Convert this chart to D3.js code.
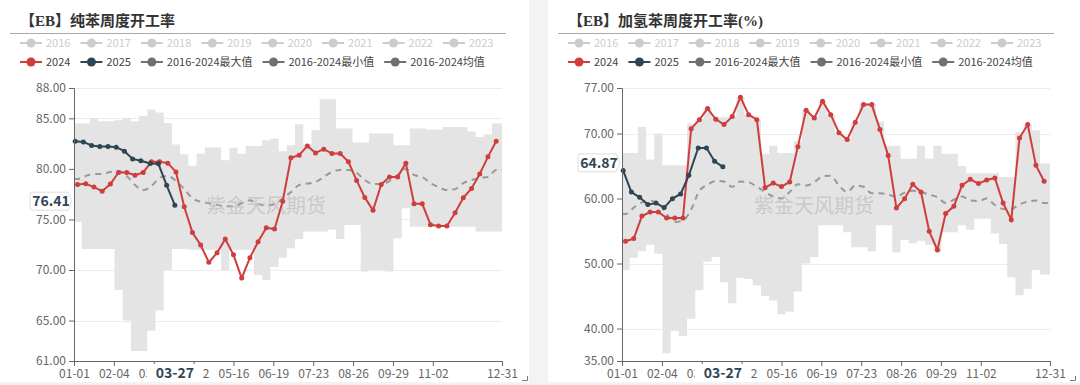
<!DOCTYPE html>
<html>
<head>
<meta charset="utf-8">
<script src="https://cdn.jsdelivr.net/npm/d3@7"></script>
<style>
  body { margin: 0; background: #f3f3f3; }
  svg { display: block; font-family: "Noto Sans CJK SC", "Noto Sans", sans-serif; }
</style>
</head>
<body>
<svg id="chart" width="1080" height="385"></svg>
<script>
// x axis labels (daily category axis of a leap year, label every 34 days)
var xTickLabels = ["01-01", "02-04", "03-09", "04-12", "05-16", "06-19", "07-23", "08-26", "09-29", "11-02", "12-31"];
var pointerDate = "03-27";

var legendYears = ["2016", "2017", "2018", "2019", "2020", "2021", "2022", "2023"];
var legendMain = ["2024", "2025", "2016-2024最大值", "2016-2024最小值", "2016-2024均值"];

// weekly data, first Thursday of each year
var weekStart2024 = "2024-01-04";
var weekStart2025 = "2025-01-02";

// 【EB】纯苯周度开工率
var pureTicks = [61, 65, 70, 75, 80, 85, 88];
var pure2024 = [78.46, 78.52, 78.2, 77.8, 78.5, 79.65, 79.65, 79.38, 79.65, 80.7,
  80.7, 80.57, 79.7, 76.25, 73.7, 72.47, 70.76, 71.7, 73.06, 71.5,
  69.2, 71.2, 72.8, 74.18, 74.05, 76.8, 81.1, 81.36, 82.27, 81.58,
  81.95, 81.52, 81.52, 80.7, 78.86, 77.18, 75.9, 78.46, 79.21, 79.21,
  80.57, 76.55, 76.55, 74.48, 74.35, 74.35, 75.66, 77.14, 78.07, 79.5,
  81.19, 82.74];
var pure2025 = [82.74, 82.67, 82.31, 82.21, 82.21, 82.15, 81.75, 80.99, 80.8, 80.54, 80.5, 78.37, 76.41];
var pureMax = [84.49, 84.49, 85.04, 84.7, 84.7, 84.8, 85.0, 84.7, 85.24, 85.87,
  85.57, 84.55, 82.41, 81.46, 80.3, 81.49, 82.12, 82.12, 80.86, 82.1,
  81.5, 82.27, 82.27, 82.84, 83.0, 81.75, 82.34, 84.42, 82.4, 83.82,
  86.88, 86.88, 84.0, 84.0, 82.6, 82.6, 83.5, 83.5, 83.5, 82.34,
  82.34, 84.0, 84.0, 83.9, 83.9, 84.15, 84.15, 84.15, 83.7, 83.16,
  83.4, 84.5];
var pureMin = [74.77, 72.08, 72.08, 72.08, 72.08, 68.03, 65.0, 62.0, 62.0, 64.0,
  66.0, 70.0, 72.08, 72.08, 72.0, 72.0, 72.0, 72.0, 70.0, 72.0,
  72.0, 72.0, 69.5, 69.0, 70.3, 71.2, 72.15, 73.07, 73.8, 73.8,
  73.8, 74.0, 73.07, 74.45, 74.45, 69.84, 70.0, 70.0, 69.84, 73.13,
  76.1, 74.28, 74.28, 74.28, 74.28, 74.28, 74.28, 74.28, 74.28, 73.8,
  73.8, 73.8];
var pureMean = [79.0, 79.3, 79.5, 79.5, 79.7, 79.8, 79.3, 78.4, 77.9, 78.3,
  79.1, 79.3, 78.8, 78.0, 77.1, 76.75, 76.6, 76.45, 76.3, 76.3,
  76.6, 76.9, 76.5, 76.4, 76.5, 77.1, 77.7, 78.4, 78.55, 78.7,
  79.2, 79.7, 79.9, 79.9, 79.6, 78.9, 78.5, 78.5, 78.8, 79.4,
  80.0, 79.4, 79.2, 78.6, 78.2, 77.9, 78.0, 78.6, 78.9, 79.1,
  79.2, 79.9];

// 【EB】加氢苯周度开工率(%)
var hydroTicks = [35, 40, 50, 60, 70, 77];
var hydro2024 = [53.42, 53.83, 57.31, 57.92, 57.92, 57.0, 57.0, 57.0, 70.75, 72.13,
  73.83, 72.18, 71.37, 72.6, 75.57, 72.9, 72.13, 61.67, 62.38, 61.83,
  62.54, 67.98, 73.57, 72.38, 74.95, 72.9, 70.13, 69.06, 71.72, 74.45,
  74.45, 70.6, 66.6, 58.54, 59.98, 62.18, 61.0, 54.95, 52.08, 57.68,
  58.8, 62.03, 62.95, 62.29, 62.85, 63.15, 59.3, 56.75, 69.31, 71.37,
  65.1, 62.65];
var hydro2025 = [64.29, 61.0, 60.18, 59.06, 59.3, 58.6, 59.98, 60.7, 63.57, 67.77, 67.77, 65.72, 64.87];
var hydroMax = [67.0, 67.0, 71.0, 66.0, 70.0, 65.1, 65.1, 65.1, 71.5, 72.2,
  73.9, 72.5, 72.5, 72.6, 75.6, 72.9, 72.1, 66.9, 68.1, 67.0,
  67.0, 68.8, 73.6, 72.5, 74.95, 72.9, 70.1, 69.2, 71.7, 74.6,
  74.6, 71.8, 68.1, 68.1, 66.1, 66.1, 68.1, 66.1, 68.1, 66.9,
  66.9, 65.0, 63.9, 63.9, 63.9, 63.9, 63.3, 63.3, 70.2, 71.4,
  70.5, 65.4];
var hydroMin = [49.0, 50.9, 51.9, 52.9, 51.5, 36.2, 39.6, 38.85, 41.5, 45.9,
  50.3, 51.0, 47.1, 43.9, 47.8, 47.6, 46.6, 45.0, 44.3, 42.2,
  42.6, 45.7, 50.0, 51.0, 55.9, 55.9, 55.9, 54.8, 52.5, 52.5,
  51.9, 55.9, 55.9, 51.7, 53.6, 53.1, 53.5, 52.9, 51.9, 54.8,
  54.8, 55.9, 55.2, 56.9, 56.9, 54.6, 53.0, 47.9, 45.1, 46.1,
  49.0, 48.3];
var hydroMean = [57.6, 58.6, 59.4, 59.6, 59.3, 57.6, 56.4, 56.6, 58.3, 61.2,
  62.1, 62.7, 62.6, 61.8, 62.6, 62.5, 61.8, 61.0, 60.3, 60.0,
  61.0, 62.2, 62.0, 62.5, 63.4, 63.5, 62.0, 61.0, 62.0, 61.8,
  60.8, 60.8, 60.6, 60.3, 60.9, 61.2, 61.0, 60.6, 60.2, 59.3,
  59.8, 60.3, 59.7, 59.6, 60.0, 59.0, 58.4, 58.4, 59.1, 59.5,
  59.7, 59.3];

var colors = { y2024: "#cf3d3d", y2025: "#2f4554", stat: "#6e7074", off: "#cccccc", band: "#e4e4e4", mean: "#999999" };

var svg = d3.select("#chart");
var parseDay = d3.timeParse("%Y-%m-%d");
var fmtMD = d3.timeFormat("%m-%d");

// "MM-DD" -> position on the leap-year axis
function dayIndex(md) {
  var p = md.split("-").map(Number);
  return d3.timeDay.count(new Date(2024, 0, 1), new Date(2024, p[0] - 1, p[1]));
}

function weeklyDates(start, n) {
  var d0 = parseDay(start);
  return d3.range(n).map(function (i) { return fmtMD(d3.timeDay.offset(d0, 7 * i)); });
}

var dates2024 = weeklyDates(weekStart2024, pure2024.length);
var dates2025 = weeklyDates(weekStart2025, pure2025.length);

// white cards
svg.append("rect").attr("x", 0).attr("y", 0).attr("width", 529).attr("height", 382).attr("fill", "#fff");
svg.append("rect").attr("x", 548).attr("y", 0).attr("width", 532).attr("height", 382).attr("fill", "#fff");

function drawLegendRow(g, names, y, active) {
  var xPos = 20;
  names.forEach(function (name, i) {
    var c = !active ? colors.off : (i === 0 ? colors.y2024 : (i === 1 ? colors.y2025 : colors.stat));
    g.append("line").attr("x1", xPos).attr("x2", xPos + 22).attr("y1", y).attr("y2", y)
      .attr("stroke", c).attr("stroke-width", 2);
    g.append("circle").attr("cx", xPos + 11).attr("cy", y).attr("r", 4.5).attr("fill", c);
    var t = g.append("text").attr("x", xPos + 26).attr("y", y + 4)
      .attr("font-size", 11).attr("fill", active ? "#444" : colors.off).text(name);
    xPos += 26 + t.node().getComputedTextLength() + 10;
  });
}

function drawChart(cfg) {
  var g = svg.append("g").attr("transform", "translate(" + cfg.ox + ",0)");
  var x = d3.scaleLinear().domain([0, 365]).range([74, 502]);
  var y = d3.scaleLinear().domain([cfg.ticks[0], cfg.ticks[cfg.ticks.length - 1]]).range([361, 88]);

  g.append("text").attr("x", 20).attr("y", 26)
    .attr("font-family", "'Liberation Serif', 'Noto Sans CJK SC', serif")
    .attr("font-size", 15).attr("font-weight", "bold").attr("fill", "#333").text(cfg.title);
  g.append("line").attr("x1", 10).attr("x2", 506).attr("y1", 33.5).attr("y2", 33.5)
    .attr("stroke", "#aaa").attr("stroke-width", 1);

  drawLegendRow(g, legendYears, 43, false);
  drawLegendRow(g, legendMain, 62, true);

  // grid
  g.selectAll("line.grid").data(cfg.ticks.slice(1)).enter().append("line")
    .attr("class", "grid").attr("x1", 74).attr("x2", 502)
    .attr("y1", function (d) { return Math.round(y(d)) + 0.5; })
    .attr("y2", function (d) { return Math.round(y(d)) + 0.5; })
    .attr("stroke", "#ececec");

  // max / min band, step per week
  var last = cfg.max.length - 1;
  var band = [{ i: 0, hi: cfg.max[0], lo: cfg.min[0] }]
    .concat(dates2024.map(function (d, k) { return { i: dayIndex(d), hi: cfg.max[k], lo: cfg.min[k] }; }))
    .concat([{ i: 365, hi: cfg.max[last], lo: cfg.min[last] }]);
  g.append("path").datum(band)
    .attr("d", d3.area().curve(d3.curveStep)
      .x(function (d) { return x(d.i); })
      .y0(function (d) { return y(d.lo); })
      .y1(function (d) { return y(d.hi); }))
    .attr("fill", colors.band);

  // mean
  var meanPts = [{ i: 0, v: cfg.mean[0] }]
    .concat(dates2024.map(function (d, k) { return { i: dayIndex(d), v: cfg.mean[k] }; }))
    .concat([{ i: 365, v: cfg.mean[last] }]);
  g.append("path").datum(meanPts)
    .attr("d", d3.line().curve(d3.curveMonotoneX)
      .x(function (d) { return x(d.i); }).y(function (d) { return y(d.v); }))
    .attr("fill", "none").attr("stroke", colors.mean).attr("stroke-width", 2)
    .attr("stroke-dasharray", "6,5");

  // watermark
  g.append("text").attr("x", 206).attr("y", 213).attr("font-size", 20)
    .attr("fill", "#bdbdbd").attr("fill-opacity", 0.7).text("紫金天风期货");

  // yearly lines
  [[dates2024, cfg.s2024, colors.y2024], [dates2025, cfg.s2025, colors.y2025]].forEach(function (s) {
    var pts = s[0].map(function (d, k) { return { i: dayIndex(d), v: s[1][k] }; });
    g.append("path").datum(pts)
      .attr("d", d3.line().x(function (d) { return x(d.i); }).y(function (d) { return y(d.v); }))
      .attr("fill", "none").attr("stroke", s[2]).attr("stroke-width", 2);
    g.selectAll(null).data(pts).enter().append("circle")
      .attr("cx", function (d) { return x(d.i); }).attr("cy", function (d) { return y(d.v); })
      .attr("r", 2.5).attr("fill", s[2]);
  });

  // axes
  var yAxis = g.append("g").attr("transform", "translate(74,0)")
    .call(d3.axisLeft(y).tickValues(cfg.ticks).tickFormat(d3.format(".2f")).tickSize(5).tickPadding(3));
  var xAxis = g.append("g").attr("transform", "translate(0,361)")
    .call(d3.axisBottom(x).tickValues(xTickLabels.map(dayIndex))
      .tickFormat(function (d, i) { return xTickLabels[i]; }).tickSize(5).tickPadding(3));
  [yAxis, xAxis].forEach(function (a) {
    a.select(".domain").attr("stroke", "#666");
    a.selectAll(".tick line").attr("stroke", "#666");
    a.selectAll("text").attr("fill", "#666").attr("font-size", 12)
      .attr("font-family", "'Noto Sans CJK SC', sans-serif");
  });

  // axis pointer labels
  var px = x(dayIndex(pointerDate));
  g.append("rect").attr("x", px - 28).attr("y", 364).attr("width", 56).attr("height", 17).attr("fill", "#fff");
  g.append("text").attr("x", px).attr("y", 378).attr("text-anchor", "middle")
    .attr("font-size", 14).attr("font-weight", "bold").attr("fill", colors.y2025).text(pointerDate);

  var lastVal = cfg.s2025[cfg.s2025.length - 1];
  var py = y(lastVal) - 4;
  g.append("path")
    .attr("d", "M32," + (py - 9) + "H68l4," + 9 + "l-4," + 9 + "H32q-2,0 -2,-2V" + (py - 7) + "q0,-2 2,-2Z")
    .attr("fill", "#fff").attr("stroke", "#ddd");
  g.append("text").attr("x", 51).attr("y", py + 5).attr("text-anchor", "middle")
    .attr("font-size", 14).attr("font-weight", "bold").attr("fill", colors.y2025)
    .text(d3.format(".2f")(lastVal));

  // resize corner mark
  g.append("path").attr("d", "M522,380.5H527.5V376").attr("fill", "none").attr("stroke", "#777");
}

drawChart({ ox: 0, title: "【EB】纯苯周度开工率", ticks: pureTicks, s2024: pure2024, s2025: pure2025,
  max: pureMax, min: pureMin, mean: pureMean });
drawChart({ ox: 548, title: "【EB】加氢苯周度开工率(%)", ticks: hydroTicks, s2024: hydro2024, s2025: hydro2025,
  max: hydroMax, min: hydroMin, mean: hydroMean });
</script>
</body>
</html>
